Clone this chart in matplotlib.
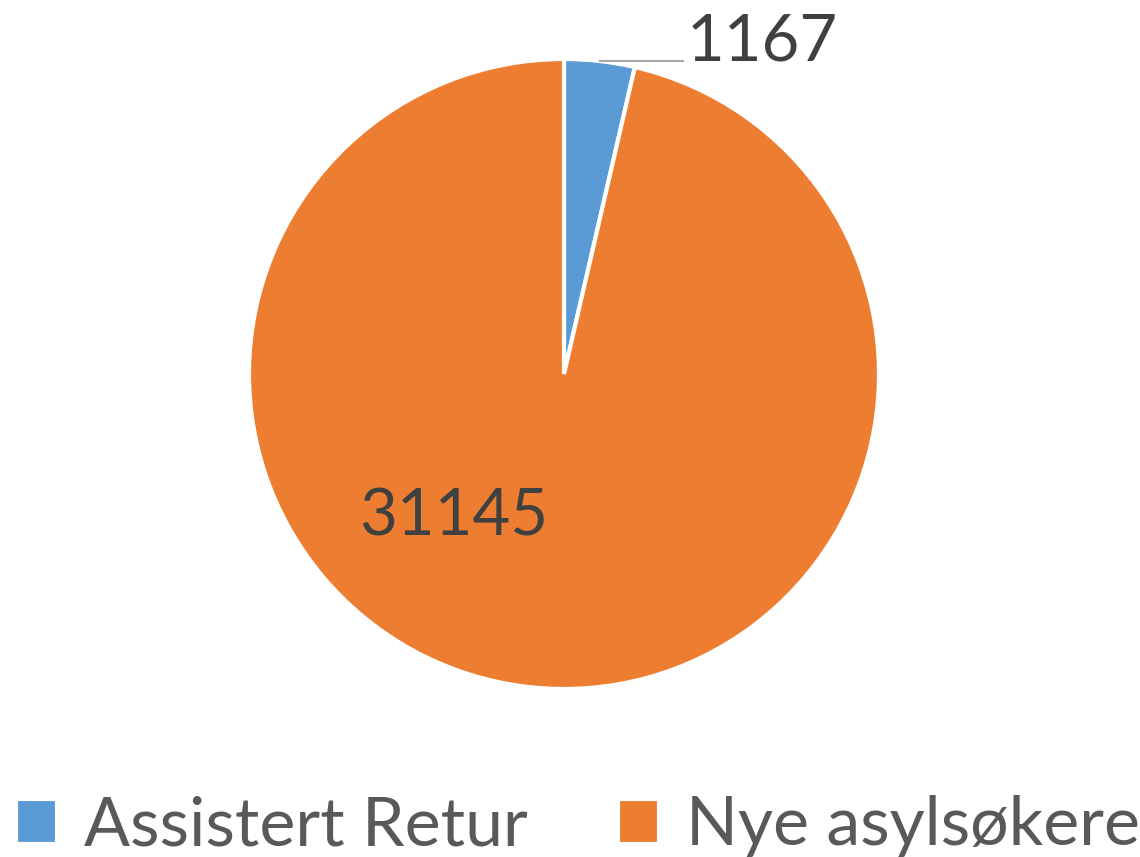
import matplotlib.pyplot as plt

labels = ['Assistert Retur', 'Nye asylsøkere']
values = [1167, 31145]
colors = ['#5B9BD5', '#ED7D31']

plt.rcParams['font.family'] = ['Lato', 'DejaVu Sans']

fig = plt.figure(figsize=(11.4, 8.57), dpi=100)
# pie centre ~ (564, 374) px, radius ~315 px
ax = fig.add_axes([249 / 1140, (857 - 689) / 857, 630 / 1140, 630 / 857])

wedges, _ = ax.pie(values, colors=colors, startangle=90, counterclock=False,
                   wedgeprops=dict(edgecolor='white', linewidth=3))
ax.set_xlim(-1, 1)
ax.set_ylim(-1, 1)
ax.set_aspect('equal')

# data labels
ax.plot([0.115, 0.378], [0.995, 0.995], color='#A6A6A6', lw=1.5, clip_on=False)
ax.text(0.39, 0.995, str(values[0]), fontsize=47, color='#404040',
        ha='left', va='baseline', clip_on=False)
ax.text(-0.35, -0.455, str(values[1]), fontsize=47, color='#404040',
        ha='center', va='center')

fig.legend(wedges, labels, loc='lower center', bbox_to_anchor=(0.507, -0.072),
           ncol=2, frameon=False, fontsize=49, labelcolor='#595959',
           handlelength=0.6, handleheight=0.62, handletextpad=0.4,
           columnspacing=1.33)

fig.savefig('out.png', dpi=100)
